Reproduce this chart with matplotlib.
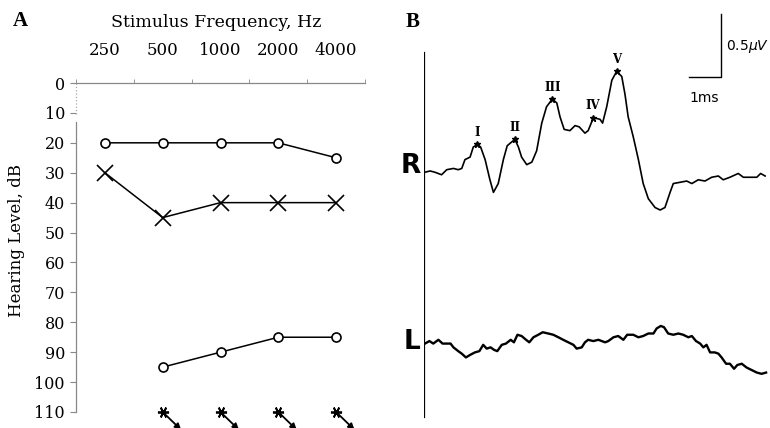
import numpy as np
import matplotlib
matplotlib.use('Agg')
import matplotlib.pyplot as plt

# panel A: audiogram
freq_labels = ['250', '500', '1000', '2000', '4000']
circle_upper = [20, 20, 20, 20, 25]
cross_upper = [30, 45, 40, 40, 40]
circle_lower = [np.nan, 95, 90, 85, 85]
no_response = [np.nan, 110, 110, 110, 110]
db_ticks = list(range(0, 111, 10))

# panel B: ABR traces (time in ms, amplitude in uV relative to baseline)
r_time = [0.03, 0.19, 0.34, 0.55, 0.71, 0.92, 1.07, 1.18, 1.28, 1.44, 1.54, 1.67, 1.77,
          1.91, 2.06, 2.17, 2.32, 2.48, 2.60, 2.74, 2.84, 2.95, 3.05, 3.21, 3.37, 3.52,
          3.68, 3.83, 4.01, 4.15, 4.25, 4.38, 4.56, 4.72, 4.85, 5.03, 5.13, 5.29, 5.34,
          5.50, 5.58, 5.71, 5.87, 6.02, 6.18, 6.28, 6.38, 6.54, 6.70, 6.85, 7.01, 7.22,
          7.38, 7.53, 7.69, 7.79, 8.00, 8.21, 8.37, 8.57, 8.78, 8.99, 9.20, 9.35, 9.56,
          9.82, 9.98, 10.19, 10.40, 10.52, 10.66]
r_amp = [0.00, 0.01, 0.00, -0.02, 0.02, 0.03, 0.02, 0.03, 0.10, 0.12, 0.20, 0.22, 0.20,
         0.10, -0.06, -0.16, -0.09, 0.10, 0.21, 0.24, 0.26, 0.20, 0.12, 0.06, 0.08, 0.17,
         0.39, 0.52, 0.58, 0.55, 0.44, 0.34, 0.33, 0.37, 0.36, 0.31, 0.33, 0.43, 0.43,
         0.42, 0.39, 0.52, 0.73, 0.80, 0.76, 0.62, 0.44, 0.28, 0.10, -0.09, -0.21, -0.28,
         -0.30, -0.28, -0.16, -0.09, -0.08, -0.07, -0.09, -0.06, -0.07, -0.04, -0.03, -0.06, -0.04,
         -0.01, -0.04, -0.04, -0.04, -0.01, -0.03]
l_time = [0.03, 0.17, 0.29, 0.45, 0.58, 0.71, 0.83, 0.92, 1.07, 1.18, 1.31, 1.44, 1.59,
          1.73, 1.85, 1.96, 2.08, 2.19, 2.29, 2.43, 2.56, 2.71, 2.81, 2.92, 3.05, 3.19,
          3.29, 3.42, 3.57, 3.71, 3.88, 4.04, 4.20, 4.35, 4.51, 4.67, 4.77, 4.93, 5.03,
          5.13, 5.29, 5.45, 5.66, 5.76, 5.92, 6.07, 6.23, 6.35, 6.54, 6.70, 6.85, 7.01,
          7.17, 7.27, 7.40, 7.50, 7.63, 7.79, 7.95, 8.10, 8.26, 8.37, 8.50, 8.63, 8.73,
          8.83, 8.94, 9.09, 9.20, 9.30, 9.44, 9.56, 9.69, 9.79, 9.93, 10.08, 10.24, 10.40,
          10.55, 10.69]
l_amp = [-0.01, 0.01, -0.01, 0.02, -0.01, -0.01, -0.01, -0.04, -0.07, -0.09, -0.12, -0.10, -0.08,
         -0.07, -0.02, -0.05, -0.04, -0.06, -0.07, -0.02, -0.01, 0.02, 0.00, 0.06, 0.05, 0.02,
         0.00, 0.04, 0.06, 0.08, 0.07, 0.06, 0.04, 0.02, 0.00, -0.02, -0.05, -0.04, 0.00,
         0.02, 0.01, 0.02, 0.00, 0.01, 0.04, 0.05, 0.02, 0.06, 0.06, 0.04, 0.05, 0.07,
         0.07, 0.11, 0.13, 0.12, 0.07, 0.06, 0.07, 0.06, 0.04, 0.05, 0.01, -0.01, -0.04,
         -0.02, -0.08, -0.08, -0.09, -0.12, -0.17, -0.17, -0.21, -0.18, -0.17, -0.20, -0.22, -0.24,
         -0.25, -0.24]
peak_names = ['I', 'II', 'III', 'IV', 'V']
peak_times = [1.67, 2.84, 4.01, 5.29, 6.02]

W, H = 770, 428
R_OFFSET = 2.03
L_OFFSET = 0.68

fig = plt.figure(figsize=(W / 100, H / 100), dpi=100)
serif = ['DejaVu Serif']
grey = '#888888'
fs = 12

# ---------- A ----------
axA = fig.add_axes([76 / W, 1 - 412 / H, 289 / W, 329 / H])
x = np.arange(len(freq_labels))
axA.plot(x, circle_upper, '-o', color='black', lw=1.1, ms=6.5, mfc='white', mew=1.2, clip_on=False)
axA.plot(x, cross_upper, '-x', color='black', lw=1.1, ms=11, mew=1.2, clip_on=False)
axA.plot(x, circle_lower, '-o', color='black', lw=1.1, ms=6.5, mfc='white', mew=1.2, clip_on=False)
axA.plot(x, no_response, ls='none', marker=(6, 2, 90), color='black', ms=8, mew=1.3, clip_on=False)
for xi, yi in zip(x, no_response):
    if np.isnan(yi):
        continue
    axA.annotate('', xy=(xi + 0.32, yi + 6), xytext=(xi, yi), annotation_clip=False,
                 arrowprops=dict(arrowstyle='-|>', color='black', lw=1.3, mutation_scale=9,
                                 shrinkA=0, shrinkB=0))

axA.set_xlim(-0.5, 4.5)
axA.set_ylim(110, 0)
axA.xaxis.tick_top()
axA.set_xticks(x)
axA.set_xticklabels(freq_labels, family=serif, fontsize=fs)
axA.set_xticks(np.arange(-0.5, 4.6, 1), minor=True)
axA.tick_params(axis='x', which='major', length=0, pad=17)
axA.tick_params(axis='x', which='minor', length=3, color=grey, direction='out')
axA.set_yticks(db_ticks)
axA.set_yticklabels([str(v) for v in db_ticks], family=serif, fontsize=11.5)
axA.tick_params(axis='y', length=4, color=grey, pad=4)
for s in ['right', 'bottom', 'left']:
    axA.spines[s].set_visible(False)
axA.spines['top'].set_color(grey)
axA.spines['top'].set_linewidth(0.9)
# broken left axis: dotted near the top, solid below
axA.plot([-0.5, -0.5], [0, 11], ls=':', color='#aaaaaa', lw=0.9, clip_on=False)
axA.plot([-0.5, -0.5], [13, 110], ls='-', color=grey, lw=0.9, clip_on=False)

axA.set_ylabel('Hearing Level, dB', family=serif, fontsize=fs)
axA.yaxis.set_label_coords(-0.176, 0.52)
axA.text(0.484, 1.185, 'Stimulus Frequency, Hz', transform=axA.transAxes, ha='center',
         va='center', family=serif, fontsize=12.5)

# ---------- B ----------
axB = fig.add_axes([424 / W, 0, 346 / W, 1])
axB.set_xlim(0, 346 / 32)
axB.set_ylim(0, H / 126)
axB.axis('off')
axB.plot([0, 0], [0.087, 2.976], color='black', lw=1.6)
axB.plot(r_time, np.array(r_amp) + R_OFFSET, color='black', lw=1.2)
axB.plot(l_time, np.array(l_amp) + L_OFFSET, color='black', lw=1.7)

peak_amp = np.interp(peak_times, r_time, r_amp) + R_OFFSET
axB.plot(peak_times, peak_amp, ls='none', marker='*', color='black', ms=5)
for name, t, a in zip(peak_names, peak_times, peak_amp):
    axB.annotate(name, (t, a), xytext=(0, 4), textcoords='offset points', ha='center',
                 va='bottom', family=serif, fontweight='bold', fontsize=8.5)

# scale bar: 1 ms by 0.5 uV
axB.plot([8.28, 9.28, 9.28], [2.786, 2.786, 3.286], color='black', lw=1.0)
axB.text(8.28, 2.62, '1ms', ha='left', va='center', fontsize=10)
axB.text(9.45, 3.03, '0.5$\\mu V$', ha='left', va='center', fontsize=10)

fig.text(411 / W, 1 - 166 / H, 'R', ha='center', va='center', fontsize=19, fontweight='bold',
         family=['Liberation Sans Narrow', 'DejaVu Sans'])
fig.text(412 / W, 1 - 342 / H, 'L', ha='center', va='center', fontsize=19, fontweight='bold',
         family=['Liberation Sans Narrow', 'DejaVu Sans'])
fig.text(20 / W, 1 - 21 / H, 'A', ha='center', va='center', fontsize=15, fontweight='bold',
         family=['Liberation Serif'])
fig.text(413 / W, 1 - 22 / H, 'B', ha='center', va='center', fontsize=15, fontweight='bold',
         family=['Liberation Serif'])

fig.savefig('out.png', dpi=100)
